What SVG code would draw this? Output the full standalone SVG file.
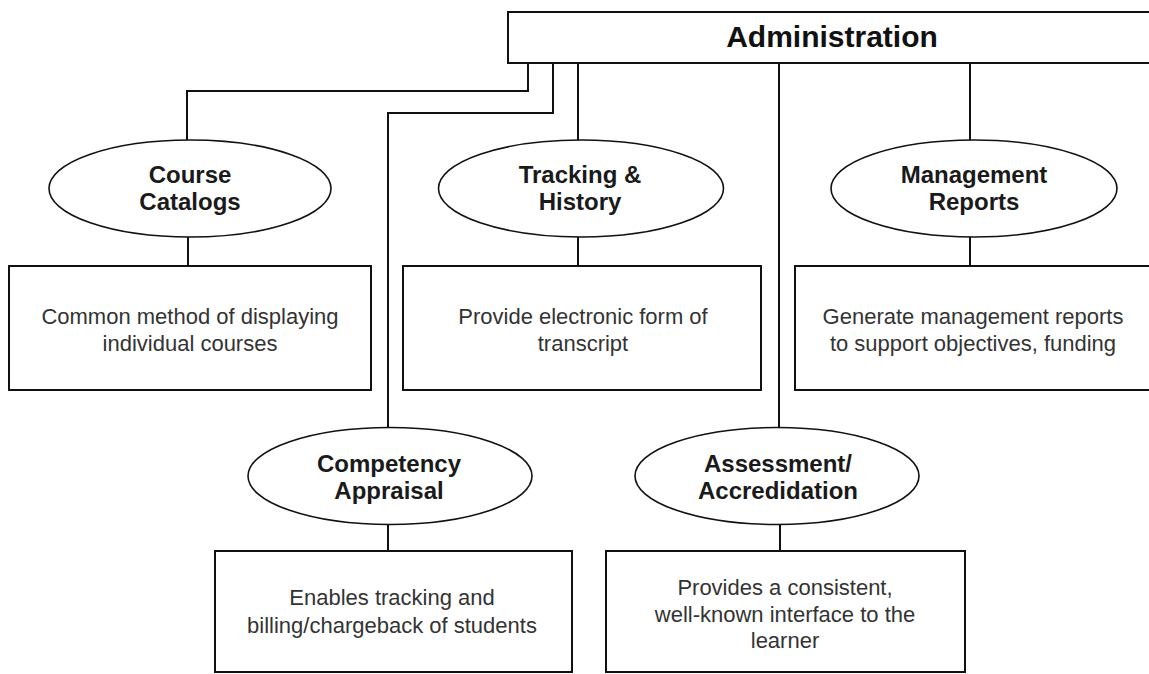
<svg xmlns="http://www.w3.org/2000/svg" width="1149" height="674" viewBox="0 0 1149 674">
<style>
.box{fill:#fff;stroke:#111;stroke-width:2}
.ell{fill:#fff;stroke:#111;stroke-width:1.6}
.con{fill:none;stroke:#111;stroke-width:2}
.title{font-family:"Liberation Sans",Arial,sans-serif;font-weight:bold;font-size:30px;fill:#111;text-anchor:middle}
.lbl{font-family:"Liberation Sans",Arial,sans-serif;font-weight:bold;font-size:24px;fill:#1a1a1a;text-anchor:middle}
.txt{font-family:"Liberation Sans",Arial,sans-serif;font-size:22px;fill:#333;text-anchor:middle}
</style>
<rect width="1149" height="674" fill="#fff"/>
<g id="connectors">
<path class="con" d="M528,63 V91 H187 V140"/>
<path class="con" d="M553,63 V113 H388 V427.5"/>
<path class="con" d="M578,63 V140"/>
<path class="con" d="M779,63 V427.5"/>
<path class="con" d="M970,63 V140"/>
<path class="con" d="M188,237 V266"/>
<path class="con" d="M578,237 V266"/>
<path class="con" d="M970,237 V266"/>
<path class="con" d="M388,524.5 V551"/>
<path class="con" d="M780,524.5 V551"/>
</g>
<g id="administration">
<rect class="box" x="508" y="12" width="650" height="51"/>
<text class="title" x="832" y="47">Administration</text>
</g>
<g id="course-catalogs">
<ellipse class="ell" cx="190" cy="188.5" rx="141" ry="48.5"/>
<text class="lbl" x="190" y="183">Course</text>
<text class="lbl" x="190" y="210">Catalogs</text>
</g>
<g id="course-catalogs-desc">
<rect class="box" x="9" y="266" width="362" height="124"/>
<text class="txt" x="190" y="324">Common method of displaying</text>
<text class="txt" x="190" y="351">individual courses</text>
</g>
<g id="tracking-history">
<ellipse class="ell" cx="581" cy="188.5" rx="142.5" ry="48.5"/>
<text class="lbl" x="580" y="183">Tracking &amp;</text>
<text class="lbl" x="580" y="210">History</text>
</g>
<g id="tracking-history-desc">
<rect class="box" x="403" y="266" width="358" height="124"/>
<text class="txt" x="583" y="324">Provide electronic form of</text>
<text class="txt" x="583" y="351">transcript</text>
</g>
<g id="management-reports">
<ellipse class="ell" cx="974" cy="188.5" rx="143" ry="48.5"/>
<text class="lbl" x="974" y="183">Management</text>
<text class="lbl" x="974" y="210">Reports</text>
</g>
<g id="management-reports-desc">
<rect class="box" x="795" y="266" width="360" height="124"/>
<text class="txt" x="973" y="324">Generate management reports</text>
<text class="txt" x="973" y="351">to support objectives, funding</text>
</g>
<g id="competency-appraisal">
<ellipse class="ell" cx="390" cy="476" rx="142" ry="48.5"/>
<text class="lbl" x="389" y="472">Competency</text>
<text class="lbl" x="389" y="499">Appraisal</text>
</g>
<g id="competency-appraisal-desc">
<rect class="box" x="215" y="551" width="357" height="121"/>
<text class="txt" x="392" y="605">Enables tracking and</text>
<text class="txt" x="392" y="633">billing/chargeback of students</text>
</g>
<g id="assessment-accredidation">
<ellipse class="ell" cx="777" cy="476" rx="142" ry="48.5"/>
<text class="lbl" x="778" y="472">Assessment/</text>
<text class="lbl" x="778" y="499">Accredidation</text>
</g>
<g id="assessment-accredidation-desc">
<rect class="box" x="606" y="551" width="359" height="121"/>
<text class="txt" x="785" y="595">Provides a consistent,</text>
<text class="txt" x="785" y="622">well-known interface to the</text>
<text class="txt" x="785" y="648">learner</text>
</g>
</svg>
